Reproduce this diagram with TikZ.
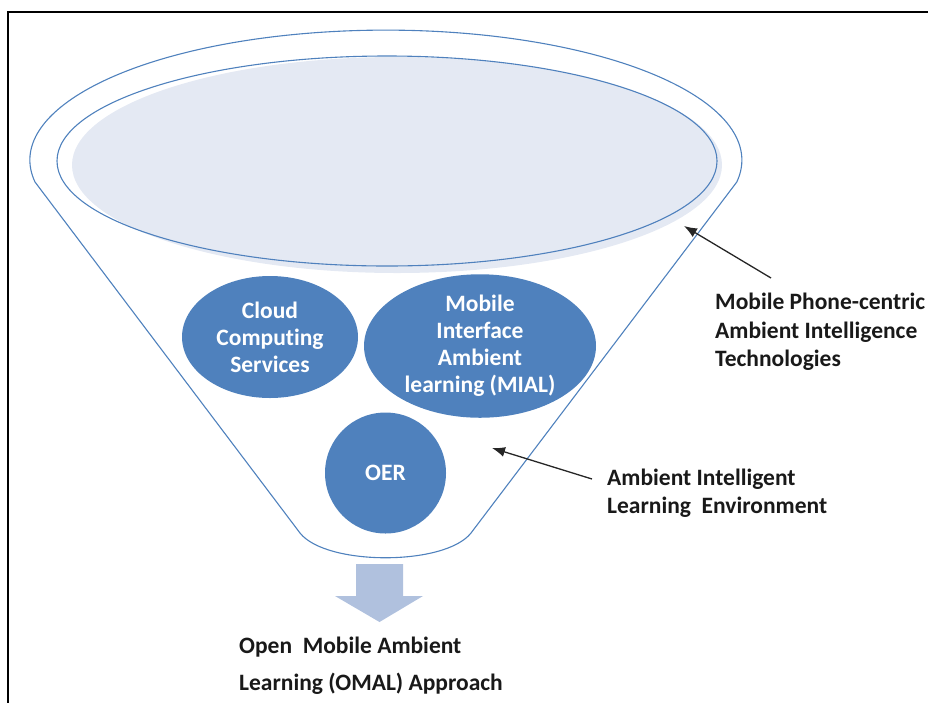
\documentclass[tikz,border=0pt]{standalone}
\usepackage{fontspec}
\setmainfont{Carlito}[Ligatures=NoCommon]
\usetikzlibrary{shapes,arrows.meta,positioning}
\definecolor{funnelblue}{HTML}{4F81BD}
\definecolor{mouthfill}{HTML}{E4E9F3}
\definecolor{flowfill}{HTML}{B0C1DE}

\begin{document}
\begin{tikzpicture}[
        x=1pt, y=1pt,
        every node/.style={font=\fontsize{23.5}{27}\selectfont\bfseries},
        funnel/.style={draw=funnelblue, line width=1.1pt},
        blob/.style={ellipse, fill=funnelblue, text=white, align=center, inner sep=0pt},
        lbl/.style={align=left, inner sep=0pt, text=black!90},
        pointer/.style={-{Latex[length=13pt,width=10pt]}, line width=1.3pt, black!85},
    ]
        \useasboundingbox (0,0) rectangle (928,-702);

        % --- Frame ---
        \draw[line width=2pt] (8,-12) rectangle (950,-720);

        % --- Funnel body ---
        \draw[funnel] (35,-182) arc[start angle=189.7, end angle=-9.7, x radius=356, y radius=130]
            -- (471,-533) .. controls (445,-566) and (326,-566) .. (300,-533) -- cycle;

        % --- Funnel mouth ---
        \fill[mouthfill] (397,-165) ellipse [x radius=325, y radius=108];
        \draw[funnel] (387,-161) ellipse [x radius=330, y radius=105];

        % --- Contents ---
        \node[blob, minimum width=176, minimum height=122] (cloud) at (270,-337) {Cloud\\Computing\\Services};
        \node[blob, minimum width=232, minimum height=128] (mial)  at (480,-346) {Mobile\\Interface\\Ambient\\learning (MIAL)};
        \node[blob, minimum size=121] (oer) at (385.5,-473) {OER};

        % --- Output arrow ---
        \fill[flowfill] (356,-564) -- (403,-564) -- (403,-596) -- (423,-596) -- (379.5,-622)
            -- (335,-596) -- (356,-596) -- cycle;

        % --- Labels ---
        \node[lbl, anchor=west, font=\fontsize{23.5}{28.5}\selectfont\bfseries] (techlbl) at (715,-332)
            {Mobile Phone-centric\\Ambient Intelligence\\Technologies};
        \node[lbl, anchor=west, font=\fontsize{23.5}{28}\selectfont\bfseries] (envlbl) at (607,-493)
            {Ambient Intelligent\\Learning\ \ Environment};
        \node[lbl, anchor=west, font=\fontsize{23.5}{37}\selectfont\bfseries] (omal) at (239,-666)
            {Open\ \ Mobile Ambient\\Learning (OMAL) Approach};

        % --- Pointers ---
        \coordinate (techtail) at (771,-278);
        \coordinate (techtip)  at (684,-226);
        \coordinate (envtail)  at (592,-479);
        \coordinate (envtip)   at (492,-448);
        \draw[pointer] (techtail) -- (techtip);
        \draw[pointer] (envtail) -- (envtip);

    \end{tikzpicture}
\end{document}
